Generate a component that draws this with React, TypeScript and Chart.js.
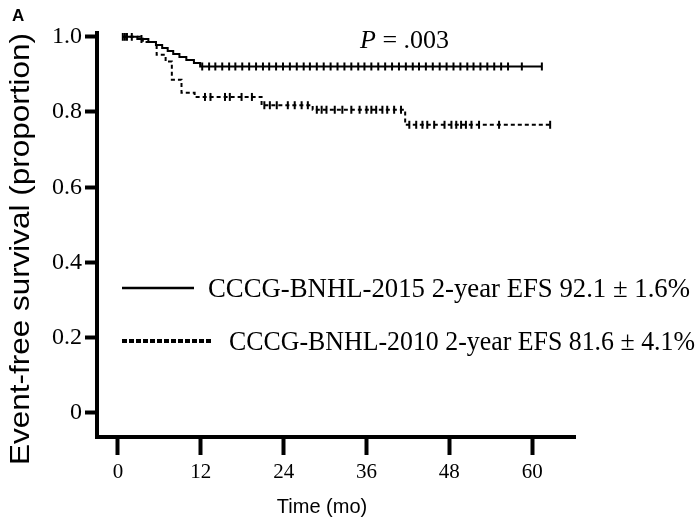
import React, { useEffect, useRef } from "react";
import { Chart, registerables } from "chart.js";

Chart.register(...registerables);

// ---- data ----
const xTickValues = [0, 12, 24, 36, 48, 60];
const xTickLabels = ["0", "12", "24", "36", "48", "60"];
const yTickValues = [0, 0.2, 0.4, 0.6, 0.8, 1.0];
const yTickLabels = ["0", "0.2", "0.4", "0.6", "0.8", "1.0"];

const seriesNames = [
  "CCCG-BNHL-2015 2-year EFS 92.1 \u00b1 1.6%",
  "CCCG-BNHL-2010 2-year EFS 81.6 \u00b1 4.1%",
];
const pLabel = "P";
const pValue = " = .003";
const panelLetter = "A";
const xTitle = "Time (mo)";
const yTitle = "Event-free survival (proportion)";

// KM step curve, CCCG-BNHL-2015 (months, survival)
const times2015 = [0.7, 2.8, 4.4, 5.5, 6.4, 7.2, 8.0, 8.9, 9.9, 11.0, 11.9, 61.4];
const surv2015 = [1.0, 0.994, 0.986, 0.978, 0.97, 0.962, 0.954, 0.946, 0.938, 0.93, 0.921, 0.921];
// censor times 2015
const censor2015 = [
  0.7, 1.3, 2.0, 3.4, 12.2, 13.2, 14.1, 15.1, 16.1, 17.0, 18.0, 19.0, 20.0, 21.0,
  21.9, 22.9, 23.9, 24.9, 25.9, 26.9, 27.8, 28.8, 29.8, 30.8, 31.8, 32.8, 33.8,
  34.8, 35.7, 36.7, 37.7, 38.7, 39.7, 40.7, 41.7, 42.7, 43.6, 44.6, 45.6, 46.6,
  47.6, 48.6, 49.6, 50.6, 51.5, 52.5, 53.5, 54.5, 55.5, 56.5, 58.5, 61.4,
];

// KM step curve, CCCG-BNHL-2010
const times2010 = [0.7, 3.6, 5.6, 6.9, 7.8, 9.2, 11.1, 20.8, 28.2, 41.6, 62.6];
const surv2010 = [1.0, 0.986, 0.952, 0.934, 0.886, 0.851, 0.84, 0.818, 0.806, 0.766, 0.766];
const censor2010 = [
  1.0, 12.6, 13.4, 15.5, 16.2, 17.9, 19.4, 21.2, 22.0, 23.0, 24.6, 25.6, 26.6,
  27.5, 28.8, 29.5, 30.2, 31.4, 32.5, 33.8, 35.0, 36.0, 36.7, 37.4, 38.3, 39.0,
  40.0, 41.0, 42.2, 43.2, 44.1, 44.8, 45.8, 47.3, 48.3, 49.0, 49.7, 50.4, 51.2,
  52.3, 55.2, 62.6,
];

function survAt(times: number[], surv: number[], t: number) {
  let v = surv[0];
  for (let i = 0; i < times.length; i++) {
    if (times[i] <= t + 1e-9) v = surv[i];
  }
  return v;
}

function fitText(ctx: CanvasRenderingContext2D, text: string, x: number, y: number, width: number) {
  const w = ctx.measureText(text).width;
  ctx.save();
  ctx.translate(x, y);
  ctx.scale(width / w, 1);
  ctx.fillText(text, 0, 0);
  ctx.restore();
}

const overlayPlugin = {
  id: "overlay",
  afterDraw(chart: any) {
    const ctx = chart.ctx as CanvasRenderingContext2D;
    ctx.save();
    ctx.fillStyle = "#000";
    ctx.strokeStyle = "#000";
    ctx.textAlign = "left";
    ctx.textBaseline = "alphabetic";

    // panel letter
    ctx.font = 'bold 17px "Liberation Sans"';
    ctx.fillText(panelLetter, 12, 21);

    // P value
    ctx.font = 'italic 26px "Liberation Serif"';
    ctx.fillText(pLabel, 360, 48);
    const pw = ctx.measureText(pLabel).width;
    ctx.font = '26px "Liberation Serif"';
    ctx.fillText(pValue, 360 + pw, 48);

    // legend
    ctx.lineWidth = 2.5;
    ctx.setLineDash([]);
    ctx.beginPath();
    ctx.moveTo(122, 288);
    ctx.lineTo(194, 288);
    ctx.stroke();

    ctx.lineWidth = 4;
    ctx.setLineDash([5, 2]);
    ctx.beginPath();
    ctx.moveTo(122, 341);
    ctx.lineTo(211, 341);
    ctx.stroke();
    ctx.setLineDash([]);

    ctx.font = '26.5px "Liberation Serif"';
    fitText(ctx, seriesNames[0], 208, 297, 482);
    fitText(ctx, seriesNames[1], 229, 350, 466);

    // x title
    ctx.font = '20px "Liberation Sans"';
    ctx.textAlign = "center";
    ctx.fillText(xTitle, 322, 513);

    // y title
    ctx.font = '28px "Liberation Sans"';
    const w = ctx.measureText(yTitle).width;
    ctx.translate(29, 249);
    ctx.rotate(-Math.PI / 2);
    ctx.scale(432 / w, 1);
    ctx.textAlign = "center";
    ctx.textBaseline = "alphabetic";
    ctx.fillText(yTitle, 0, 0);
    ctx.restore();
  },
};

export default function App() {
  const ref = useRef<HTMLCanvasElement>(null);

  useEffect(() => {
    const line2015 = times2015.map((t, i) => ({ x: t, y: surv2015[i] }));
    const line2010 = times2010.map((t, i) => ({ x: t, y: surv2010[i] }));
    const cens2015 = censor2015.map((t) => ({ x: t, y: survAt(times2015, surv2015, t) }));
    const cens2010 = censor2010.map((t) => ({ x: t, y: survAt(times2010, surv2010, t) }));

    const chart = new Chart(ref.current!, {
      type: "scatter",
      data: {
        datasets: [
          {
            label: seriesNames[1],
            data: line2010,
            showLine: true,
            stepped: true,
            borderColor: "#000",
            borderWidth: 2,
            borderDash: [4, 3],
            pointRadius: 0,
          },
          {
            label: seriesNames[0],
            data: line2015,
            showLine: true,
            stepped: true,
            borderColor: "#000",
            borderWidth: 2,
            pointRadius: 0,
          },
          {
            label: "c2015",
            data: cens2015,
            showLine: false,
            pointStyle: "line",
            rotation: 90,
            pointRadius: 4,
            borderColor: "#000",
            pointBorderWidth: 2,
          },
          {
            label: "c2010",
            data: cens2010,
            showLine: false,
            pointStyle: "line",
            rotation: 90,
            pointRadius: 4,
            borderColor: "#000",
            pointBorderWidth: 2,
          },
        ],
      } as any,
      options: {
        animation: false,
        responsive: false,
        devicePixelRatio: 1,
        layout: { padding: { top: 33, right: 125, left: 0, bottom: 0 } },
        plugins: {
          legend: { display: false },
          tooltip: { enabled: false },
        },
        scales: {
          x: {
            type: "linear",
            min: -3.04,
            max: 66.2,
            afterBuildTicks: (s: any) => {
              s.ticks = xTickValues.map((v) => ({ value: v }));
            },
            afterFit: (s: any) => {
              s.height = 89;
            },
            ticks: {
              color: "#000",
              font: { family: '"Liberation Serif"', size: 21 },
              padding: 5,
              maxRotation: 0,
              autoSkip: false,
              callback: (v: any) => {
                const i = xTickValues.indexOf(Number(v));
                return i >= 0 ? xTickLabels[i] : "";
              },
            },
            grid: {
              display: true,
              drawOnChartArea: false,
              drawTicks: true,
              tickLength: 18,
              tickWidth: 4,
              tickColor: "#000",
              color: "#000",
            },
            border: { display: true, color: "#000", width: 4 },
          },
          y: {
            type: "linear",
            min: -0.064,
            max: 1.01,
            afterBuildTicks: (s: any) => {
              s.ticks = yTickValues.map((v) => ({ value: v }));
            },
            afterFit: (s: any) => {
              s.width = 97;
            },
            ticks: {
              color: "#000",
              font: { family: '"Liberation Serif"', size: 24 },
              padding: 3,
              autoSkip: false,
              callback: (v: any) => {
                const i = yTickValues.findIndex((t) => Math.abs(t - Number(v)) < 1e-6);
                return i >= 0 ? yTickLabels[i] : "";
              },
            },
            grid: {
              display: true,
              drawOnChartArea: false,
              drawTicks: true,
              tickLength: 12,
              tickWidth: 4,
              tickColor: "#000",
              color: "#000",
            },
            border: { display: true, color: "#000", width: 4 },
          },
        },
      } as any,
      plugins: [overlayPlugin],
    });
    return () => chart.destroy();
  }, []);

  return (
    <canvas
      ref={ref}
      width={700}
      height={526}
      style={{ position: "fixed", left: 0, top: 0, width: "700px", height: "526px", background: "#fff" }}
    />
  );
}
